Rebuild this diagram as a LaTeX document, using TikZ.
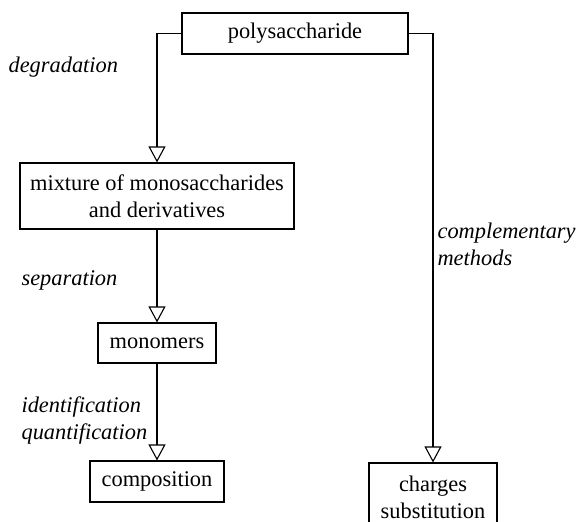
\documentclass[tikz,border=0pt]{standalone}
\usepackage{fontspec}
\setmainfont{Liberation Serif}
\usepackage{tikz}
\usetikzlibrary{arrows.meta,positioning}

\begin{document}
\begin{tikzpicture}[
    x=0.5pt, y=-0.5pt,
    line width=0.55pt,
    box/.style={draw, font=\fontsize{11.2}{13.5}\selectfont, align=center, inner sep=0pt, minimum height=20.5pt},
    lbl/.style={font=\fontsize{11.2}{13.5}\selectfont\itshape, align=left, anchor=west, inner sep=0pt},
    arr/.style={-{Triangle[open, length=8pt, width=8.5pt]}},
]
\useasboundingbox (0,0) rectangle (582,522);

% boxes
\node[box, minimum width=113pt] (poly) at (295,33.5) {polysaccharide};
\node[box, minimum width=137pt, minimum height=33pt] (mix) at (157,196) {mixture of monosaccharides\\and derivatives};
\node[box, minimum width=59pt, minimum height=20pt] (mono) at (157,343) {monomers};
\node[box, minimum width=67pt] (comp) at (157,481.5) {composition};
\node[box, minimum width=64pt, minimum height=34pt] (charge) at (433,497) {charges\\substitution};

% labels
\node[lbl] (degr) at (8,67) {degradation};
\node[lbl] (sep) at (21,280) {separation};
\node[lbl] (ident) at (21,420) {identification\\quantification};
\node[lbl] (compl) at (437,244) {complementary\\methods};

% connectors
\draw[arr] (poly.west) -| (mix.north);
\draw[arr] (poly.east) -| (charge.north);
\draw[arr] (mix) -- (mono);
\draw[arr] (mono) -- (comp);
\end{tikzpicture}
\end{document}
